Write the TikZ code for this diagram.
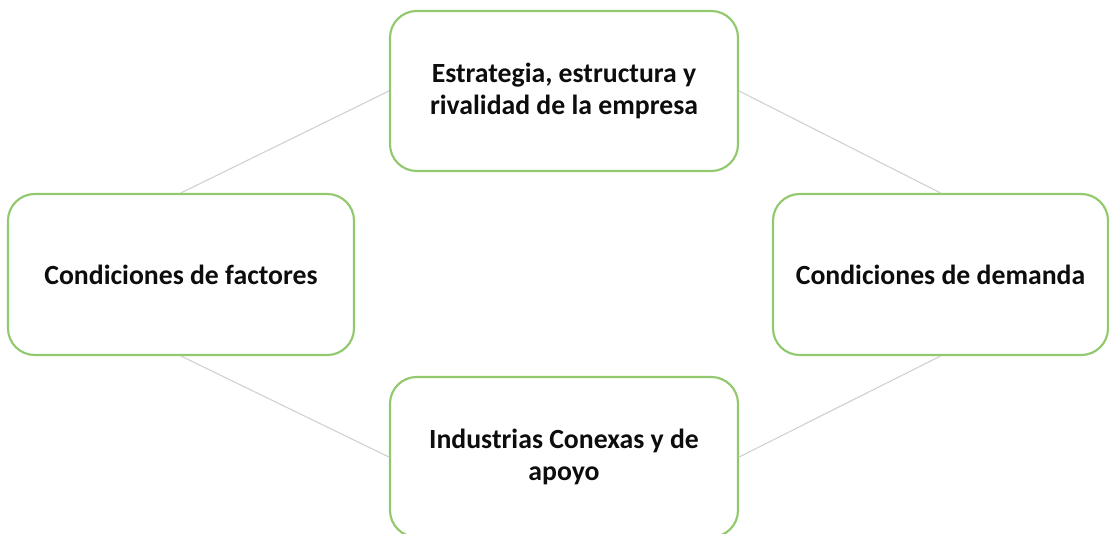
\documentclass[tikz,border=0pt]{standalone}
\usepackage{fontspec}
\setmainfont{Carlito}
\definecolor{boxgreen}{RGB}{146,200,110}
\definecolor{linegray}{RGB}{208,208,208}
\begin{document}
\begin{tikzpicture}[x=0.75pt,y=-0.75pt,
  box/.style={draw=boxgreen, line width=1.6pt, rounded corners=20pt, fill=white,
    align=center, font=\bfseries\fontsize{20.8}{24}\selectfont, text=black!95, inner sep=0pt},
  link/.style={draw=linegray, line width=0.8pt}]
\clip (0,0) rectangle (1109,534);
\fill[white] (0,0) rectangle (1109,534);
\node[box, minimum width=261pt, minimum height=120pt] (top) at (564,91)
  {Estrategia, estructura y\\rivalidad de la empresa};
\node[box, minimum width=259.5pt, minimum height=120.75pt] (left) at (181,274.5)
  {Condiciones de factores};
\node[box, minimum width=251.25pt, minimum height=120.75pt] (right) at (940.5,274.5)
  {Condiciones de demanda};
\node[box, minimum width=261pt, minimum height=120pt] (bottom) at (564,457)
  {Industrias Conexas y de\\apoyo};
\draw[link] (top.west) -- (left.north);
\draw[link] (top.east) -- (right.north);
\draw[link] (left.south) -- (bottom.west);
\draw[link] (right.south) -- (bottom.east);
\end{tikzpicture}
\end{document}
